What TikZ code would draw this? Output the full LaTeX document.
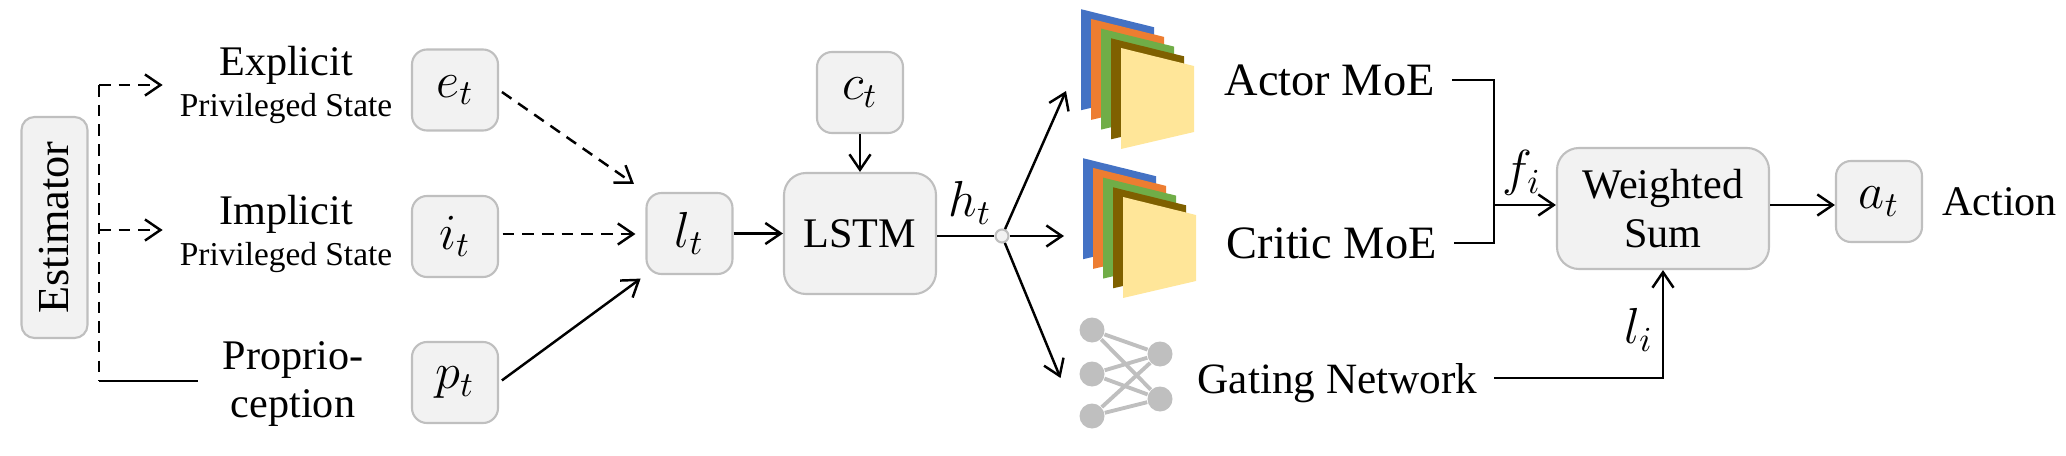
\documentclass[tikz,border=0pt]{standalone}
\usepackage{fontspec}
\setmainfont{Liberation Serif}
\usetikzlibrary{arrows.meta,calc}
\definecolor{boxfill}{HTML}{F2F2F2}
\definecolor{boxline}{HTML}{BFBFBF}
\definecolor{sheetblue}{HTML}{4472C4}
\definecolor{sheetorange}{HTML}{ED7D31}
\definecolor{sheetgreen}{HTML}{70AD47}
\definecolor{sheetbrown}{HTML}{7F6000}
\definecolor{sheetyellow}{HTML}{FFE699}
\newcommand{\mathsz}{\fontsize{14}{17}\selectfont}
\tikzset{
	basebox/.style={draw=boxline, fill=boxfill, line width=0.6pt, inner sep=0pt, align=center, font=\fontsize{12}{13.7}\selectfont},
	varbox/.style={basebox, minimum width=0.86cm, minimum height=0.81cm, rounded corners=0.15cm, font=\mathsz},
	bigbox/.style={basebox, rounded corners=0.22cm},
	lbl/.style={inner sep=0pt, align=center, font=\fontsize{12}{13.7}\selectfont},
	moelbl/.style={inner sep=0pt, font=\fontsize{13.2}{15}\selectfont},
	varlbl/.style={inner sep=0pt, font=\mathsz},
	conn/.style={line width=0.7pt, >={Straight Barb[length=4.4pt,width=6pt]}},
	dashconn/.style={conn, dash pattern=on 3.3pt off 2.3pt},
	gatedot/.style={circle, fill=boxline, inner sep=0pt, minimum size=0.25cm},
	gateedge/.style={draw=boxline, line width=1.1pt}
}
\newcommand{\privline}{\fontsize{9.5}{11}\selectfont Privileged State}
\begin{document}
\begin{tikzpicture}[y=-1cm]
	\useasboundingbox (0,0) rectangle (20.66,4.56);
	% left column
	\node[basebox, rounded corners=0.13cm, rotate=90, minimum width=2.21cm, minimum height=0.66cm, font=\fontsize{12.6}{14}\selectfont] (estimator) at (0.545,2.275) {Estimator};
	\node[lbl] (explicit) at (2.86,0.85) {Explicit\\[-2pt]\privline};
	\node[lbl] (implicit) at (2.86,2.34) {Implicit\\[-2pt]\privline};
	\node[lbl] (proprio) at (2.93,3.84) {Proprio-\\ception};
	\node[varbox] (et) at (4.55,0.90) {$e_t$};
	\node[varbox] (it) at (4.55,2.365) {$i_t$};
	\node[varbox] (pt) at (4.55,3.825) {$p_t$};
	\node[varbox] (lt) at (6.895,2.335) {$l_t$};
	% middle
	\node[bigbox, minimum width=1.52cm, minimum height=1.21cm] (lstm) at (8.60,2.335) {LSTM};
	\node[varbox] (ct) at (8.60,0.925) {$c_t$};
	\node[varlbl] (ht) at (9.70,2.03) {$h_t$};
	\node[circle, draw=boxline, fill=boxfill, line width=0.6pt, inner sep=0pt, minimum size=0.13cm] (hub) at (10.02,2.36) {};
	% sheets of the two MoE blocks
	\foreach \stackx/\stacky in {0/0, 0.02/1.49}
		\foreach \col/\off in {sheetblue/4, sheetorange/3, sheetgreen/2, sheetbrown/1, sheetyellow/0}
			\fill [\col, shift={(\stackx-0.1*\off,\stacky-0.097*\off)}] (11.21,0.48) -- (11.94,0.66) -- (11.94,1.32) -- (11.21,1.49) -- cycle;
	\node[moelbl, anchor=west] (actor) at (12.24,0.80) {Actor MoE};
	\node[moelbl, anchor=west] (critic) at (12.26,2.43) {Critic MoE};
	\node[moelbl, anchor=west, text depth=0pt, font=\fontsize{12.3}{14}\selectfont] (gating) at (11.97,3.78) {Gating Network};
	% gating icon
	\node[gatedot] (ga) at (10.92,3.30) {};
	\node[gatedot] (gb) at (10.92,3.74) {};
	\node[gatedot] (gc) at (10.92,4.16) {};
	\node[gatedot] (gd) at (11.60,3.54) {};
	\node[gatedot] (ge) at (11.60,3.99) {};
	\foreach \src in {ga,gb,gc}
		\foreach \dst in {gd,ge}
			\draw [gateedge] (\src) -- (\dst);
	% right
	\node[bigbox, minimum width=2.12cm, minimum height=1.21cm] (wsum) at (16.63,2.085) {Weighted\\Sum};
	\node[varbox] (at) at (18.79,2.015) {$a_t$};
	\node[lbl] (action) at (19.995,2.02) {Action};
	\node[varlbl] (fi) at (15.22,1.73) {$f_i$};
	\node[varlbl] (li) at (16.39,3.30) {$l_i$};
	% junctions and free ends
	\coordinate (busa) at (0.99,0.85);
	\coordinate (busb) at (0.99,2.30);
	\coordinate (busc) at (0.99,3.81);
	\coordinate (hubup) at (10.66,0.91);
	\coordinate (hubmid) at (10.64,2.36);
	\coordinate (hubdown) at (10.605,3.78);
	\coordinate (join) at (14.94,2.05);
	% connectors
	\draw [dashconn] (busa) -- (busc);
	\draw [dashconn, ->, shorten >=0.165cm] (busa) -- (busa -| explicit.west);
	\draw [dashconn, ->, shorten >=0.165cm] (busb) -- (busb -| implicit.west);
	\draw [conn, shorten >=0.245cm] (busc) -- (busc -| proprio.west);
	\draw [dashconn, ->, shorten <=1pt, shorten >=0.14cm] (et.east) -- (lt.north west);
	\draw [dashconn, ->, shorten <=1pt, shorten >=0.1cm] (it.east |- 0,2.34) -- (lt.west |- 0,2.34);
	\draw [conn, ->, shorten <=1pt, shorten >=0.06cm] (pt.east) -- (lt.south west);
	\draw [conn, ->] (lt.east) -- (lstm.west);
	\draw [conn, ->] (ct.south) -- (lstm.north);
	\draw [conn] (lstm.east |- hub) -- (hub);
	\draw [conn, ->] (hub) -- (hubup);
	\draw [conn, ->] (hub) -- (hubmid);
	\draw [conn, ->] (hub) -- (hubdown);
	\draw [conn, shorten <=0.17cm] (actor.east) -| (join);
	\draw [conn, shorten <=0.17cm] (critic.east) -| (join);
	\draw [conn, ->] (join) -- (join -| wsum.west);
	\draw [conn, ->] (wsum.east |- join) -- (at.west |- join);
	\draw [conn, ->, shorten <=0.16cm] (gating.east) -| (wsum.south);
\end{tikzpicture}
\end{document}
